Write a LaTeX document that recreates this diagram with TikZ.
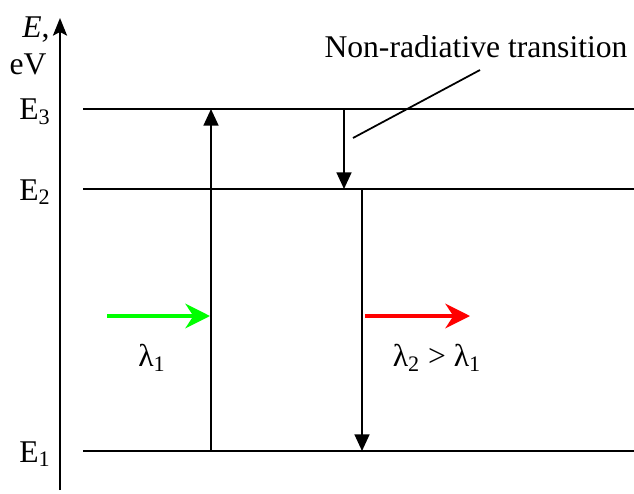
\documentclass[tikz,border=0pt]{standalone}
\usepackage{fontspec}
\setmainfont{Liberation Serif}
\usetikzlibrary{arrows.meta,positioning}
\definecolor{LvlInk}{HTML}{000000}
\definecolor{PumpGreen}{HTML}{00FF00}
\definecolor{EmitRed}{HTML}{FF0000}
\tikzset{
  lvltext/.style={font=\fontsize{18}{21}\selectfont, text=LvlInk, inner sep=0pt},
  levelline/.style={line width=1.1pt, draw=LvlInk},
  axisline/.style={-{Stealth[length=10pt,width=8pt,inset=2pt]}, line width=1.2pt, draw=LvlInk},
  transarrow/.style={-{Triangle[length=9.5pt,width=8.5pt]}, line width=1.1pt, draw=LvlInk},
  photonarrow/.style={-{Stealth[length=14pt,width=14pt,inset=4.5pt]}, line width=2pt},
  leaderline/.style={line width=1pt, draw=LvlInk}
}
\begin{document}
\begin{tikzpicture}[x=0.02cm,y=-0.02cm,every node/.style={lvltext}]
\useasboundingbox (0,0) rectangle (634,493);
% energy axis
\coordinate (axbot) at (60,490);
\coordinate (axtop) at (60,18);
\draw[axisline] (axbot) -- (axtop);
\node (lblE) at (36,30) {\textit{E},};
\node (lbleV) at (28,64) {eV};
% levels
\foreach \lv/\yy in {3/109,2/189,1/451} {
  \coordinate (L\lv w) at (83,\yy);
  \coordinate (L\lv e) at (634,\yy);
  \draw[levelline] (L\lv w) -- (L\lv e);
  \node (lblE\lv) at (35,\yy+3) {E\textsubscript{\lv}};
}
% pump, non-radiative, emission
\coordinate (pumpbot) at (211,451);
\coordinate (pumptop) at (211,109);
\draw[transarrow] (pumpbot) -- (pumptop);
\coordinate (nrtop) at (344,109);
\coordinate (nrbot) at (344,189);
\draw[transarrow] (nrtop) -- (nrbot);
\coordinate (emtop) at (362,189);
\coordinate (embot) at (362,451);
\draw[transarrow] (emtop) -- (embot);
% photons
\coordinate (ginw) at (107,316);
\coordinate (gine) at (210,316);
\draw[photonarrow, PumpGreen] (ginw) -- (gine);
\coordinate (routw) at (365,316);
\coordinate (route) at (470,316);
\draw[photonarrow, EmitRed] (routw) -- (route);
\node (lamone) at (152,358) {λ\textsubscript{1}};
\node (lamtwo) at (437,358) {λ\textsubscript{2} > λ\textsubscript{1}};
% label with leader
\node (nrlabel) at (476,47) {Non-radiative transition};
\coordinate (nrfrom) at (480,70);
\coordinate (nrpoint) at (353,138);
\draw[leaderline] (nrfrom) -- (nrpoint);
\end{tikzpicture}
\end{document}
